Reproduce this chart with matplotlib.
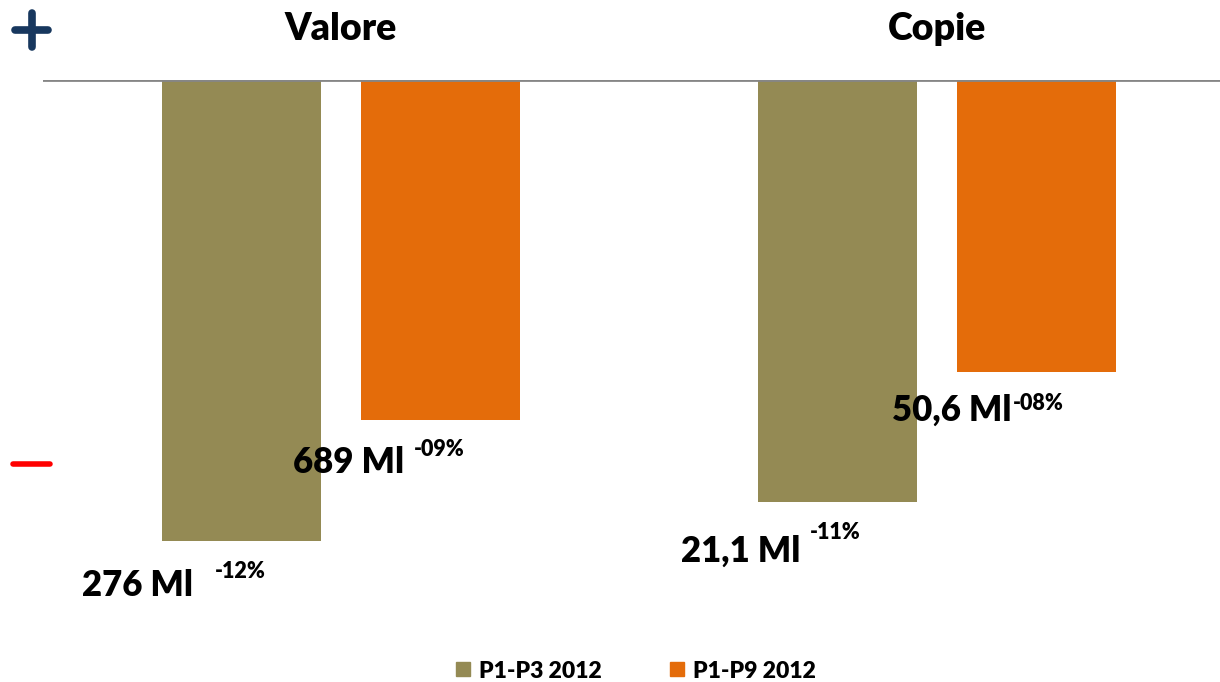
import numpy as np
import matplotlib.pyplot as plt
from matplotlib.lines import Line2D

plt.rcParams['font.family'] = ['Lato', 'DejaVu Sans']

# --- DATA ---
groups = ['Valore', 'Copie']
series = ['P1-P3 2012', 'P1-P9 2012']
colors = ['#948A54', '#E46C0A']
# change vs previous year (%)
changes = {
    'P1-P3 2012': [-12.0, -11.0],
    'P1-P9 2012': [-8.85, -7.6],
}
amount_labels = {
    'P1-P3 2012': ['276 Ml', '21,1 Ml'],
    'P1-P9 2012': ['689 Ml', '50,6 Ml'],
}
pct_labels = {
    'P1-P3 2012': ['-12%', '-11%'],
    'P1-P9 2012': ['-09%', '-08%'],
}

# label offsets in points (amount right edge / pct left edge, below bar end)
amt_off = {'P1-P3 2012': [(-35, -32), (-27, -35)], 'P1-P9 2012': [(-26, -31), (-18, -28)]}
pct_off = {'P1-P3 2012': [(-19, -22), (-20, -22)], 'P1-P9 2012': [(-19, -21), (-17, -23)]}

fig = plt.figure(figsize=(12.2, 6.82), dpi=100)
W, H = 1220, 682
# axes: left 43px, right 1220px, top 80px, bottom 80 + 14*38.4px
ax = fig.add_axes([43 / W, 1 - (80 + 14 * 38.4) / H, (1220 - 43) / W, 14 * 38.4 / H])

x = np.arange(len(groups))
width = 0.267
offset = 0.167
for i, s in enumerate(series):
    xs = x + (i * 2 - 1) * offset
    ax.bar(xs, changes[s], width=width, color=colors[i], zorder=2)
    for j, xv in enumerate(xs):
        yv = changes[s][j]
        ax.annotate(amount_labels[s][j], (xv, yv), xytext=amt_off[s][j],
                    textcoords='offset points', ha='right', va='center',
                    fontsize=25, fontweight='heavy', zorder=3)
        ax.annotate(pct_labels[s][j], (xv, yv), xytext=pct_off[s][j],
                    textcoords='offset points', ha='left', va='center',
                    fontsize=15.5, fontweight='heavy', zorder=3)

ax.axhline(0, color='#868686', lw=2, zorder=4)
ax.set_xlim(-0.5, 1.475)
ax.set_ylim(-14, 0)
ax.axis('off')

# group titles
for j, g in enumerate(groups):
    ax.annotate(g, (x[j], 0), xytext=(0, 37), textcoords='offset points',
                ha='center', va='center', fontsize=27, fontweight='heavy')

# + / - markers
fig.add_artist(Line2D([15 / W, 48 / W], [1 - 30 / H] * 2, color='#17375E', lw=5.5,
                      solid_capstyle='round'))
fig.add_artist(Line2D([32 / W] * 2, [1 - 13 / H, 1 - 47 / H], color='#17375E', lw=5.5,
                      solid_capstyle='round'))
fig.add_artist(Line2D([13 / W, 50 / W], [1 - 464 / H] * 2, color='#FF0000', lw=4,
                      solid_capstyle='round'))

handles = [Line2D([], [], marker='s', ls='none', markersize=9.5, color=c) for c in colors]
fig.legend(handles, series, loc='center', bbox_to_anchor=(636 / W, 1 - 671 / H),
           ncol=2, frameon=False, handlelength=0.6, handletextpad=0.4,
           columnspacing=3.0, prop={'weight': 'heavy', 'size': 16.5})

fig.savefig('out.png', dpi=100)
